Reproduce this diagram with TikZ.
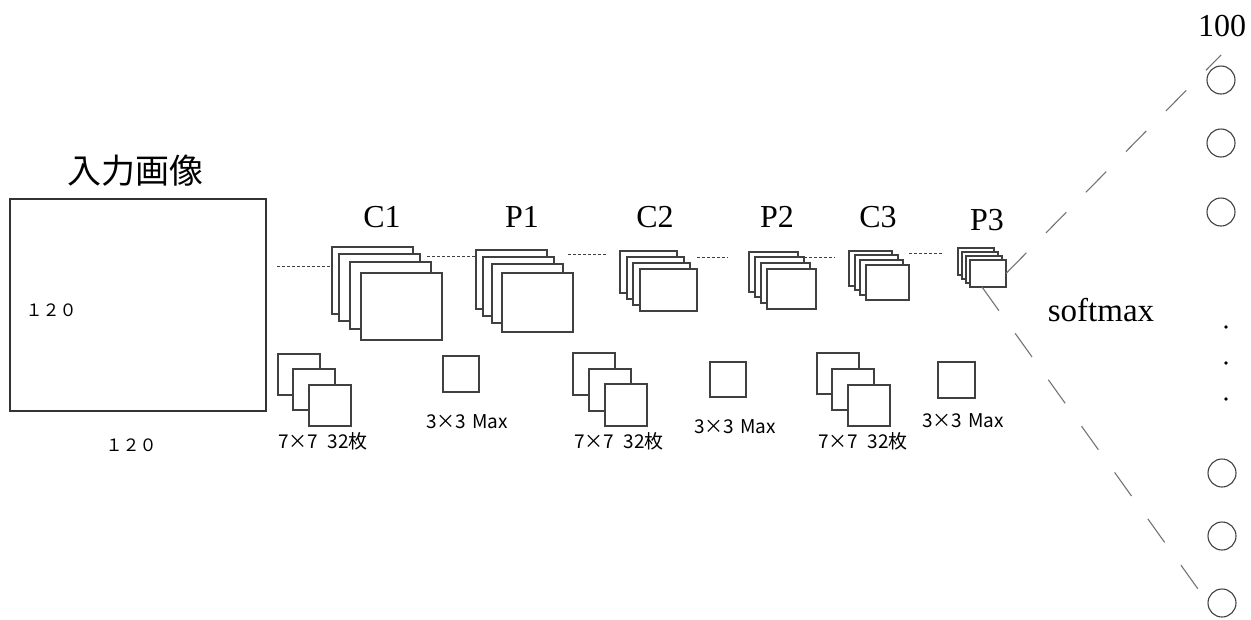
\documentclass[tikz,border=0pt]{standalone}
\usepackage{fontspec}
\setmainfont{Liberation Serif}
\newfontfamily\jp{Noto Sans CJK JP}
\begin{document}
\begin{tikzpicture}[x=1pt,y=-1pt,
  layer/.style={draw=black!75, fill=white, line width=1.2pt, anchor=north west,
                inner sep=0pt, outer sep=0pt},
  ttl/.style={font=\fontsize{32}{36}\selectfont, inner sep=0pt},
  sm/.style={font=\jp\fontsize{19}{22}\selectfont, inner sep=0pt},
  num/.style={font=\jp\fontsize{17}{19}\selectfont, inner sep=0pt},
  link/.style={draw=black!75, line width=1pt, dash pattern=on 3pt off 2pt},
  fc/.style={draw=black!55, line width=1.1pt, dash pattern=on 29pt off 28pt},
  unit/.style={circle, draw=black!75, line width=1.1pt, minimum size=28pt, inner sep=0pt},
  dot/.style={circle, fill=black, minimum size=3.6pt, inner sep=0pt}]
\useasboundingbox (0,0) rectangle (1251,619);

% input image
\node[layer, draw=black!80, line width=1.4pt, minimum width=256pt, minimum height=212pt] (in) at (10,199) {};
\node[font=\jp\fontsize{34}{38}\selectfont, inner sep=0pt] (inlab) at (135,171) {入力画像};
\node[num] (inh) at (51,310) {１２０};
\node[num] (inw) at (131,445) {１２０};

% feature map stacks
\foreach \i/\x/\y in {1/332/247,2/339/254,3/350/262,4/361/273}
  \node[layer, minimum width=81pt, minimum height=67pt] (c1-\i) at (\x,\y) {};
\foreach \i/\x/\y in {1/476/250,2/483/257,3/492/264,4/502/273}
  \node[layer, minimum width=71pt, minimum height=59pt] (p1-\i) at (\x,\y) {};
\foreach \i/\x/\y in {1/620/251,2/627/257,3/633/263,4/640/269}
  \node[layer, minimum width=57pt, minimum height=42pt] (c2-\i) at (\x,\y) {};
\foreach \i/\x/\y in {1/749/252,2/755/257,3/761/263,4/767/269}
  \node[layer, minimum width=49pt, minimum height=40pt] (p2-\i) at (\x,\y) {};
\foreach \i/\x/\y in {1/849/251,2/855/255,3/860/260,4/866/265}
  \node[layer, minimum width=43pt, minimum height=35pt] (c3-\i) at (\x,\y) {};
\foreach \i/\x/\y in {1/958/248,2/962/252,3/966/256,4/970/260}
  \node[layer, minimum width=36pt, minimum height=27pt] (p3-\i) at (\x,\y) {};

\node[ttl] (c1t) at (382,217) {C1};
\node[ttl] (p1t) at (522,217) {P1};
\node[ttl] (c2t) at (655,217) {C2};
\node[ttl] (p2t) at (777,217) {P2};
\node[ttl] (c3t) at (878,217) {C3};
\node[ttl] (p3t) at (987,220) {P3};

% dotted links between stages
\coordinate (l0a) at (277,266); \coordinate (l0b) at (330,266);
\coordinate (l1a) at (427,256); \coordinate (l1b) at (475,256);
\coordinate (l2a) at (568,254); \coordinate (l2b) at (607,254);
\coordinate (l3a) at (697,257); \coordinate (l3b) at (728,257);
\coordinate (l4a) at (804,257); \coordinate (l4b) at (835,257);
\coordinate (l5a) at (909,253); \coordinate (l5b) at (943,253);
\foreach \k in {0,...,5} \draw[link] (l\k a) -- (l\k b);

% filters
\foreach \i/\x/\y in {1/278/354,2/293/369,3/309/385}
  \node[layer, minimum width=42pt, minimum height=41pt] (f1-\i) at (\x,\y) {};
\foreach \i/\x/\y in {1/573/353,2/589/369,3/605/384}
  \node[layer, minimum width=42pt, minimum height=42pt] (f2-\i) at (\x,\y) {};
\foreach \i/\x/\y in {1/817/353,2/832/369,3/848/385}
  \node[layer, minimum width=42pt, minimum height=41pt] (f3-\i) at (\x,\y) {};
\node[layer, minimum width=36pt, minimum height=36pt] (m1) at (443,356) {};
\node[layer, minimum width=36pt, minimum height=35pt] (m2) at (710,362) {};
\node[layer, minimum width=37pt, minimum height=36pt] (m3) at (938,362) {};

\node[sm] (f1t) at (323,441) {7×7\hspace{0.5em}32枚};
\node[sm] (f2t) at (619,441) {7×7\hspace{0.5em}32枚};
\node[sm] (f3t) at (863,441) {7×7\hspace{0.5em}32枚};
\node[sm] (m1t) at (467,422) {3×3\hspace{0.3em}Max};
\node[sm] (m2t) at (735,427) {3×3\hspace{0.3em}Max};
\node[sm] (m3t) at (963,421) {3×3\hspace{0.3em}Max};

% output layer
\node[unit] (o1) at (1221,80) {};
\node[unit] (o2) at (1221,143) {};
\node[unit] (o3) at (1221,212) {};
\node[dot] (d1) at (1226,327) {};
\node[dot] (d2) at (1226,363) {};
\node[dot] (d3) at (1226,399) {};
\node[unit] (o4) at (1222,473) {};
\node[unit] (o5) at (1222,536) {};
\node[unit] (o6) at (1222,603) {};
\node[ttl] (cnt) at (1222,26) {100};
\node[ttl, font=\fontsize{33}{36}\selectfont] (smx) at (1101,310) {softmax};

\coordinate (fcu) at (1221,55);
\coordinate (fcl) at (1203,596);
\draw[fc] (p3-4.east) -- (fcu);
\draw[fc] ([xshift=-6pt]p3-4.south) -- (fcl);
\end{tikzpicture}
\end{document}
